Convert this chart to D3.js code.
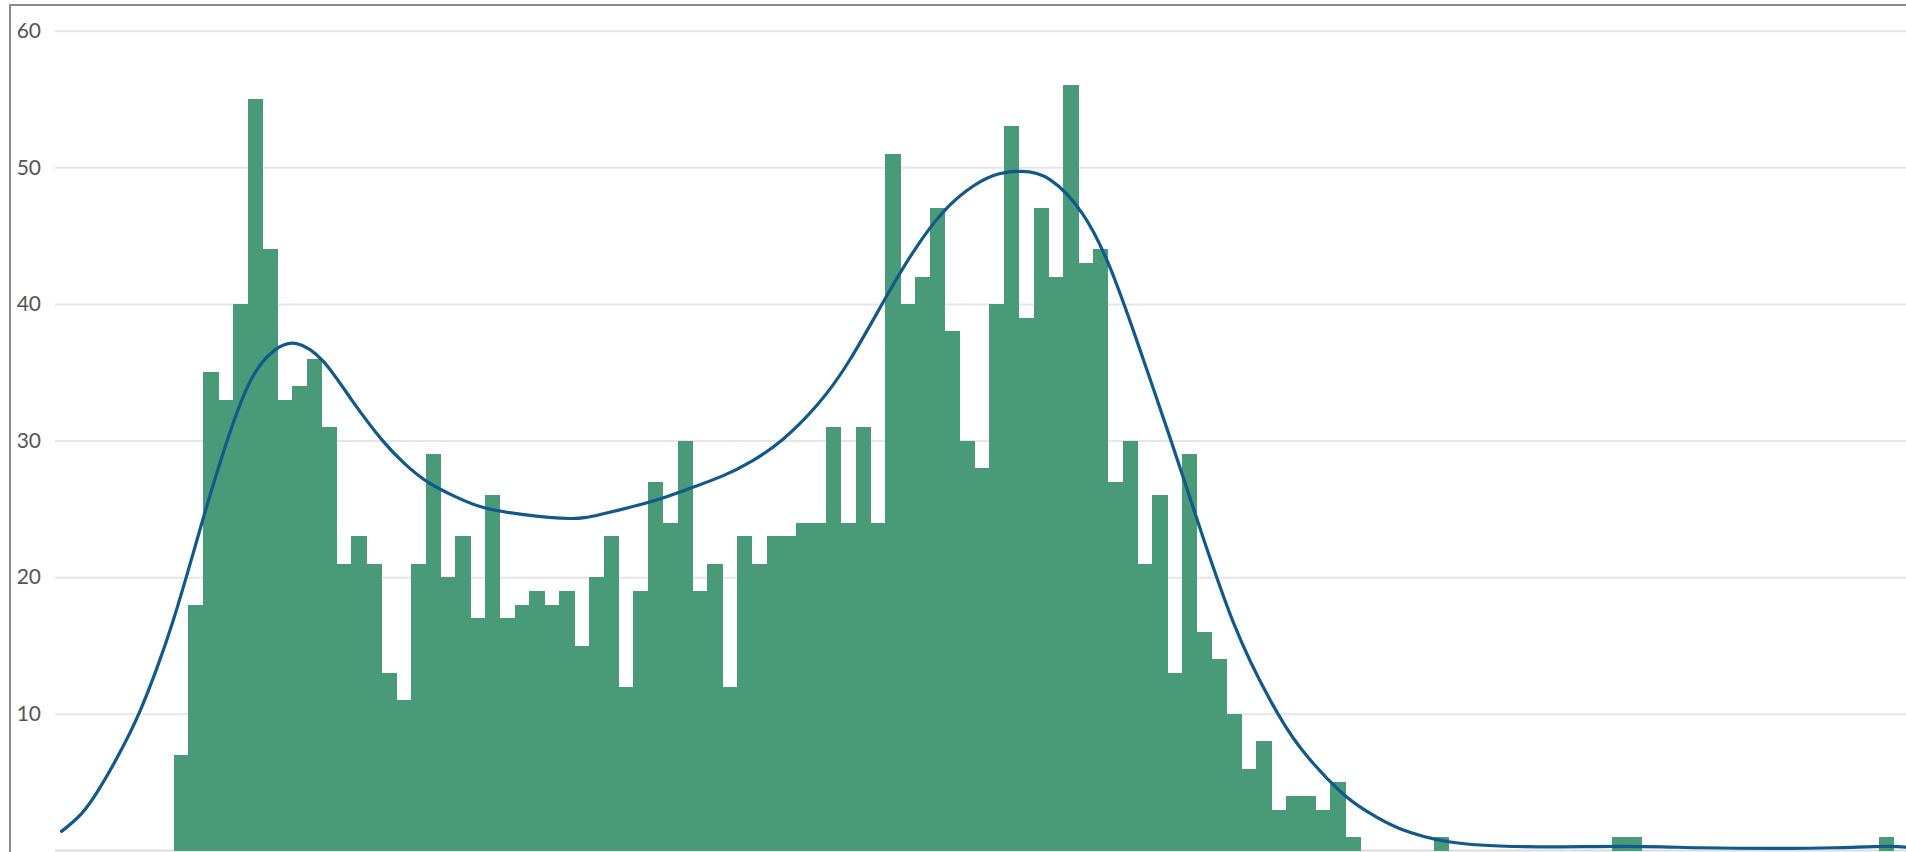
<!DOCTYPE html>
<html>
<head>
<meta charset="utf-8">
<script src="https://cdn.jsdelivr.net/npm/d3@7"></script>
<style>
  html, body { margin: 0; padding: 0; background: #fff; overflow: hidden; }
  svg { display: block; }
</style>
</head>
<body>
<svg id="chart" width="1906" height="852"></svg>
<script>
// Histogram counts per bin (bin index = position along the x axis)
const binCounts = [
  7, 18, 35, 33, 40, 55, 44, 33, 34, 36,
  31, 21, 23, 21, 13, 11, 21, 29, 20, 23,
  17, 26, 17, 18, 19, 18, 19, 15, 20, 23,
  12, 19, 27, 24, 30, 19, 21, 12, 23, 21,
  23, 23, 24, 24, 31, 24, 31, 24, 51, 40,
  42, 47, 38, 30, 28, 40, 53, 39, 47, 42,
  56, 43, 44, 27, 30, 21, 26, 13, 29, 16,
  14, 10, 6, 8, 3, 4, 4, 3, 5, 1,
  0, 0, 0, 0, 0, 1, 0, 0, 0, 0,
  0, 0, 0, 0, 0, 0, 0, 1, 1, 0,
  0, 0, 0, 0, 0, 0, 0, 0, 0, 0,
  0, 0, 0, 0, 0, 1
];
const binIndex = binCounts.map((_, i) => i);

// Smoothed density curve, expressed in bin units and count units
const densityAt = [
  -7.55, -6.2, -4.96, -3.6, -2.26, -1.1, 0, 1.34, 2.0, 3.5,
  5.2, 6.8, 8.3, 10.1, 12.0, 14.1, 15.6, 17.1, 19.0, 20.9,
  23.5, 26.7, 28.8, 32.1, 34.8, 37.0, 39.0, 41.1, 43.4, 45.6,
  48.1, 50.0, 51.8, 53.5, 55.3, 57.2, 59.1, 61.3, 63.1, 64.9,
  67.2, 69.0, 71.5, 73.9, 76.0, 78.7, 80.5, 82.7, 86.1, 89.4,
  93.0, 98.0, 103.0, 108.0, 112.0, 115.4, 116.8
];
const densityValue = [
  1.4, 2.7, 4.6, 7.2, 10.2, 13.4, 16.9, 21.8, 24.3, 29.6,
  34.4, 36.6, 37.1, 35.8, 33.0, 30.0, 28.3, 27.0, 25.9, 25.1,
  24.6, 24.3, 24.6, 25.5, 26.5, 27.4, 28.5, 30.1, 32.6, 35.9,
  40.6, 44.0, 46.6, 48.3, 49.4, 49.7, 49.1, 46.6, 42.8, 37.5,
  30.2, 24.3, 16.6, 11.1, 7.5, 4.3, 2.85, 1.6, 0.62, 0.33,
  0.26, 0.3, 0.2, 0.15, 0.2, 0.3, 0.25
];

const yTicks = [10, 20, 30, 40, 50, 60];

const W = 1906, H = 852;
const plotLeft = 55;
const svg = d3.select("#chart");

const x = d3.scaleLinear().domain([0, 116]).range([173.5, 173.5 + 14.83 * 116]);
const y = d3.scaleLinear().domain([0, 60]).range([850.5, 30.7]);

// Outer frame (extends past the right and bottom edges)
svg.append("rect")
  .attr("x", 10).attr("y", 5)
  .attr("width", W + 20).attr("height", H + 20)
  .attr("fill", "none")
  .attr("stroke", "#8c8c8c")
  .attr("stroke-width", 2);

// Horizontal gridlines + labels via a left axis
const axis = d3.axisLeft(y).tickValues(yTicks).tickSize(-(W - plotLeft)).tickPadding(14);
const gAxis = svg.append("g")
  .attr("transform", `translate(${plotLeft},0)`)
  .call(axis);
gAxis.select(".domain").remove();
gAxis.selectAll(".tick line")
  .attr("stroke", "#e6e6e6")
  .attr("stroke-width", 2);
gAxis.selectAll(".tick text")
  .attr("fill", "#555")
  .attr("font-family", "Lato, 'Open Sans', sans-serif")
  .attr("font-size", 21)
  .attr("x", -14);

// Baseline
svg.append("line")
  .attr("x1", plotLeft).attr("x2", W)
  .attr("y1", y(0)).attr("y2", y(0))
  .attr("stroke", "#dcdcdc").attr("stroke-width", 2);

// Histogram bars
svg.append("g")
  .attr("shape-rendering", "crispEdges")
  .selectAll("rect")
  .data(binIndex)
  .join("rect")
  .attr("x", i => x(i))
  .attr("width", i => x(i + 1) - x(i) + 0.6)
  .attr("y", i => y(binCounts[i]))
  .attr("height", i => y(0) - y(binCounts[i]))
  .attr("fill", "#489a78");

// Density curve
const line = d3.line()
  .x(d => x(d[0]))
  .y(d => y(d[1]))
  .curve(d3.curveNatural);
svg.append("path")
  .datum(densityAt.map((u, i) => [u, densityValue[i]]))
  .attr("d", line)
  .attr("fill", "none")
  .attr("stroke", "#11598b")
  .attr("stroke-width", 3.2)
  .attr("stroke-linecap", "round");
</script>
</body>
</html>
